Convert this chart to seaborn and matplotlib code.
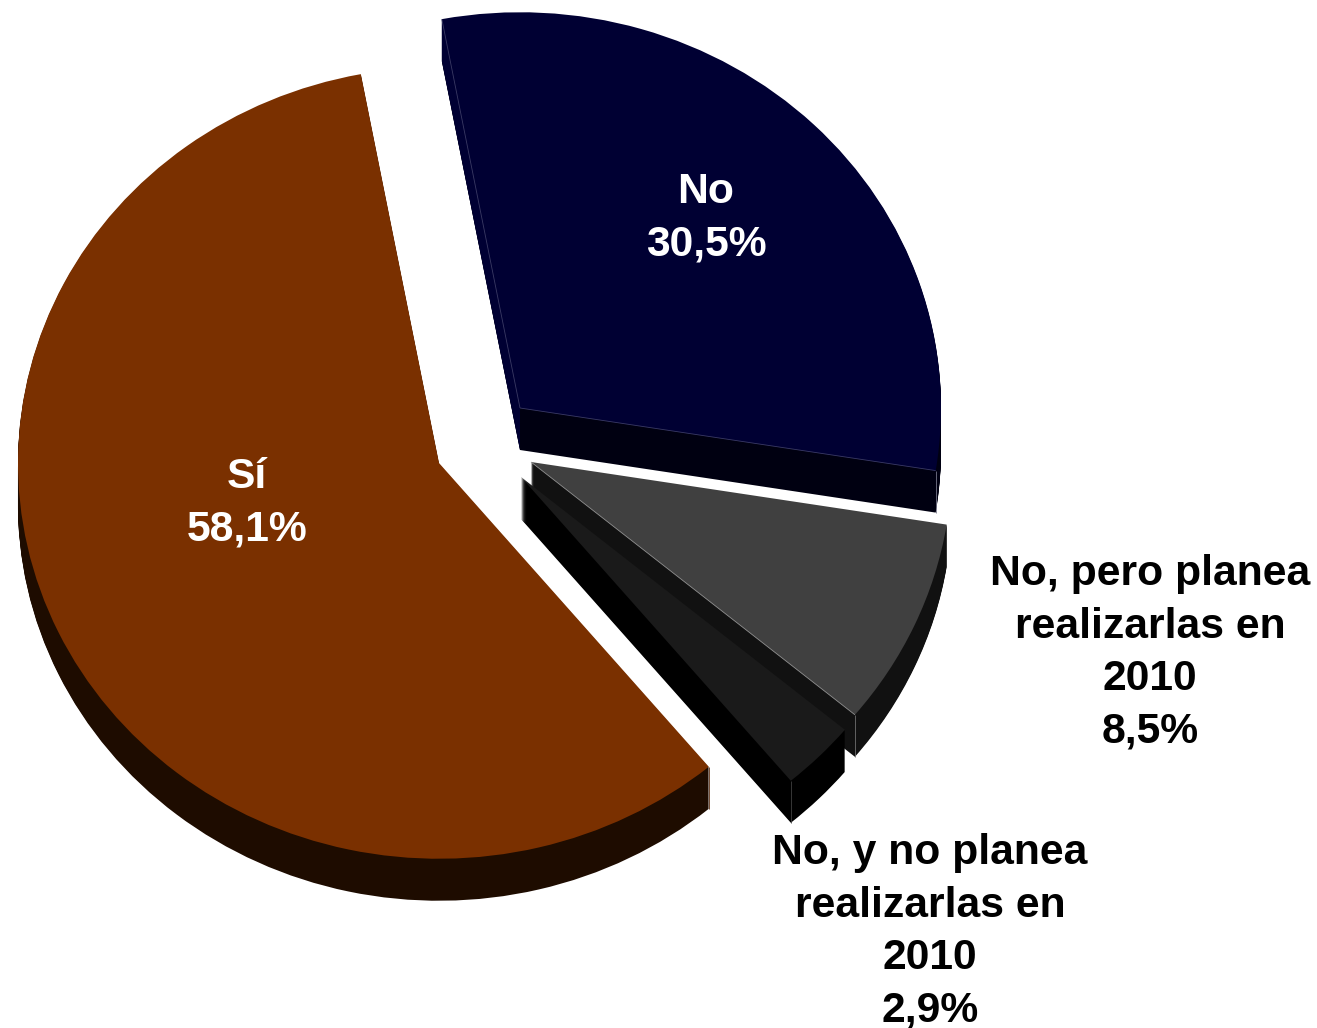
import numpy as np
import matplotlib
matplotlib.use("Agg")
import matplotlib.pyplot as plt
import seaborn as sns

# pie values, counter clockwise from the Si slice
categories = ["Sí", "No, y no planea\nrealizarlas en\n2010", "No, pero planea\nrealizarlas en\n2010", "No"]
values = [58.1, 2.9, 8.5, 30.5]
value_labels = ["58,1%", "2,9%", "8,5%", "30,5%"]

top_colors = ["#7A3000", "#1A1A1A", "#404040", "#000033"]
side_colors = ["#1E0C00", "#000000", "#111111", "#000011"]
text_colors = ["white", "black", "black", "white"]

# apex of each slice and label centre, in image pixels
apex_px = [(439, 463), (521, 477), (531, 462), (520, 408)]
label_px = [(247, 503), (930, 932), (1150, 653), (706, 218)]

W, H = 1317, 1028
RADIUS = 421
SQUASH = 0.94
DEPTH = 42
START = 100.7

sns.set_theme(style="white")
plt.rcParams["font.family"] = ["Liberation Sans", "DejaVu Sans"]

fig = plt.figure(figsize=(W / 100, H / 100), dpi=100, facecolor="white")
ax = fig.add_axes([0, 0, 1, 1])


def to_data(px, py):
    return px, (H - py) / SQUASH


def rim_point(i, angle, drop=0):
    cx, cy = to_data(apex_px[i][0], apex_px[i][1] + drop)
    a = np.radians(angle)
    return cx + RADIUS * np.cos(a), cy + RADIUS * np.sin(a)


def draw_wedge(i, color, drop=0):
    # ax.pie works out the angles, only slice i is kept
    wedges, _ = ax.pie(values, startangle=START, radius=RADIUS, colors=[color] * 4,
                       center=to_data(apex_px[i][0], apex_px[i][1] + drop),
                       wedgeprops={"linewidth": 0}, normalize=True)
    for j, w in enumerate(wedges):
        if j == i:
            w.set_zorder(order.index(i) * 10 + 1 + (DEPTH - drop) / DEPTH)
        else:
            w.remove()
    return wedges[i]


def thin_line(i, p, q, color="#8A8A8A", lw=0.8):
    ax.plot([p[0], q[0]], [p[1], q[1]], color=color, lw=lw,
            zorder=order.index(i) * 10 + 5, solid_capstyle="butt")


# back to front
order = [3, 2, 1, 0]
for i in order:
    for d in range(DEPTH, 0, -1):
        draw_wedge(i, side_colors[i], drop=d)
    top = draw_wedge(i, top_colors[i])
    apex = to_data(*apex_px[i])
    rim1 = rim_point(i, top.theta1)
    rim2 = rim_point(i, top.theta2)
    low = DEPTH / SQUASH

    if i == 3:
        # left cut face of the No slice is seen from outside, same navy as the top
        ax.fill([apex[0], rim2[0], rim2[0], apex[0]],
                [apex[1], rim2[1], rim2[1] - low, apex[1] - low],
                color=top_colors[3], lw=0, zorder=order.index(i) * 10 + 2)
        thin_line(i, apex, rim2, "#3A3A66", lw=0.6)
        thin_line(i, apex, rim1, "#3A3A66", lw=0.6)
        thin_line(i, rim1, (rim1[0], rim1[1] - low), "#77778A", lw=0.6)
    if i == 2:
        thin_line(i, apex, rim1, "#909090", lw=0.6)
        thin_line(i, rim1, (rim1[0], rim1[1] - low), "#707070", lw=0.6)
    if i == 1:
        thin_line(i, rim1, (rim1[0], rim1[1] - low), "#404040", lw=0.6)
    if i == 0:
        thin_line(i, rim2, (rim2[0], rim2[1] - low), "#5A3015", lw=0.6)

ax.set_aspect("auto")
ax.set_xlim(0, W)
ax.set_ylim(0, H / SQUASH)
ax.axis("off")

for i, cat in enumerate(categories):
    ax.text(label_px[i][0] / W, 1 - label_px[i][1] / H, f"{cat}\n{value_labels[i]}",
            transform=ax.transAxes, ha="center", va="center", fontsize=30.7,
            fontweight="bold", color=text_colors[i], linespacing=1.40, zorder=100)

fig.savefig("out.png", dpi=100)
